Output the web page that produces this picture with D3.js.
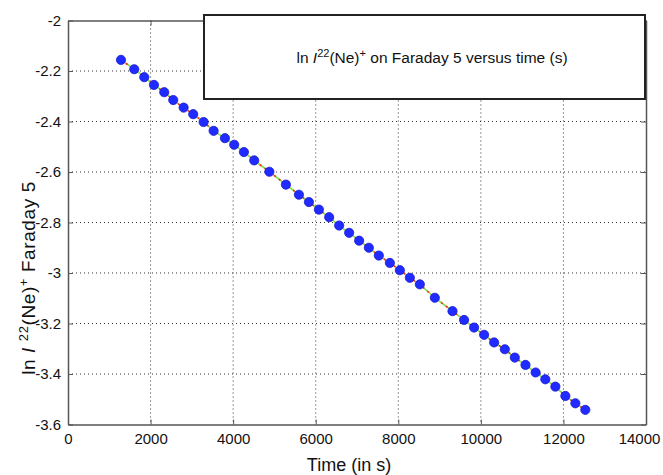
<!DOCTYPE html>
<html>
<head>
<meta charset="utf-8">
<script src="https://cdn.jsdelivr.net/npm/d3@7"></script>
<style>
  html, body { margin: 0; padding: 0; background: #fff; }
  svg { display: block; font-family: "Liberation Sans", Arial, sans-serif; }
</style>
</head>
<body>
<div id="chart"></div>
<script>
// Measured points: time (s) and ln I of 22(Ne)+ on Faraday 5
const times = [1283, 1605, 1847, 2082, 2331, 2549, 2801, 3033, 3285, 3527,
  3801, 4026, 4261, 4510, 4878, 5278, 5593, 5835, 6077, 6326,
  6568, 6810, 7052, 7287, 7529, 7796, 8038, 8280, 8522, 8885,
  9313, 9594, 9836, 10079, 10321, 10580, 10822, 11081, 11326, 11561,
  11805, 12047, 12289, 12530];
const lnValues = [-2.156, -2.193, -2.2245, -2.255, -2.284, -2.315, -2.345, -2.371, -2.402, -2.437,
  -2.466, -2.492, -2.521, -2.554, -2.599, -2.650, -2.690, -2.719, -2.749, -2.779,
  -2.812, -2.841, -2.872, -2.900, -2.931, -2.960, -2.989, -3.019, -3.045, -3.098,
  -3.151, -3.186, -3.216, -3.245, -3.275, -3.302, -3.335, -3.364, -3.394, -3.421,
  -3.450, -3.487, -3.516, -3.542];

const xTicks = [0, 2000, 4000, 6000, 8000, 10000, 12000, 14000];
const yTicks = [-2, -2.2, -2.4, -2.6, -2.8, -3, -3.2, -3.4, -3.6];

const width = 663, height = 475;
const margin = { left: 68, top: 20.5, right: 17, bottom: 50.5 };
const innerW = width - margin.left - margin.right;
const innerH = height - margin.top - margin.bottom;

const data = times.map((t, i) => ({ t: t, v: lnValues[i] }));

const svg = d3.select('#chart')
  .append('svg')
  .attr('width', width)
  .attr('height', height);

const x = d3.scaleLinear().domain([0, 14000]).range([0, innerW]);
const y = d3.scaleLinear().domain([-3.6, -2]).range([innerH, 0]);

const g = svg.append('g')
  .attr('transform', `translate(${margin.left},${margin.top})`);

// dotted grid
g.append('g')
  .selectAll('line')
  .data(xTicks.slice(1, -1))
  .enter()
  .append('line')
  .attr('x1', d => x(d)).attr('x2', d => x(d))
  .attr('y1', 0).attr('y2', innerH)
  .attr('stroke', '#333')
  .attr('stroke-dasharray', '1,3');

g.append('g')
  .selectAll('line')
  .data(yTicks.slice(1, -1))
  .enter()
  .append('line')
  .attr('x1', 0).attr('x2', innerW)
  .attr('y1', d => y(d)).attr('y2', d => y(d))
  .attr('stroke', '#333')
  .attr('stroke-dasharray', '1,3');

// axes (ticks point inward like MATLAB)
const fmt = d => String(d);
const xAxis = g.append('g')
  .attr('transform', `translate(0,${innerH})`)
  .call(d3.axisBottom(x).tickValues(xTicks).tickFormat(fmt).tickSizeInner(-5).tickSizeOuter(0).tickPadding(9));
const yAxis = g.append('g')
  .call(d3.axisLeft(y).tickValues(yTicks).tickFormat(fmt).tickSizeInner(-5).tickSizeOuter(0).tickPadding(7));
g.append('g')
  .call(d3.axisTop(x).tickValues(xTicks).tickFormat('').tickSizeInner(-5).tickSizeOuter(0));
g.append('g')
  .attr('transform', `translate(${innerW},0)`)
  .call(d3.axisRight(y).tickValues(yTicks).tickFormat('').tickSizeInner(-5).tickSizeOuter(0));

g.selectAll('.domain').attr('stroke', '#555').attr('stroke-width', 1.5);
g.selectAll('.tick line').attr('stroke', '#555');
g.selectAll('.tick text')
  .attr('fill', '#111')
  .attr('font-size', '15px')
  .attr('font-family', '"Liberation Sans", Arial, sans-serif');
// last x label sits a little left so it stays inside the figure
xAxis.selectAll('.tick text').filter(d => d === 14000).attr('dx', -7);

// connecting lines: green with red dashes on top
const line = d3.line().x(d => x(d.t)).y(d => y(d.v));
g.append('path')
  .datum(data)
  .attr('d', line)
  .attr('fill', 'none')
  .attr('stroke', '#7fe04a')
  .attr('stroke-width', 1.6);
g.append('path')
  .datum(data)
  .attr('d', line)
  .attr('fill', 'none')
  .attr('stroke', '#ff2a1a')
  .attr('stroke-width', 1.6)
  .attr('stroke-dasharray', '2,4');

// markers
g.append('g')
  .selectAll('circle')
  .data(data)
  .enter()
  .append('circle')
  .attr('cx', d => x(d.t))
  .attr('cy', d => y(d.v))
  .attr('r', 4.6)
  .attr('fill', '#1f2bff')
  .attr('stroke', '#1a1ad0')
  .attr('stroke-width', 0.8);

// legend box
const legend = svg.append('g');
legend.append('rect')
  .attr('x', 204).attr('y', 15)
  .attr('width', 441).attr('height', 84)
  .attr('fill', '#fff')
  .attr('stroke', '#222')
  .attr('stroke-width', 2);

const legText = legend.append('text')
  .attr('x', 432).attr('y', 63)
  .attr('text-anchor', 'middle')
  .attr('font-size', '15.5px')
  .attr('fill', '#111');
legText.append('tspan').text('ln ');
legText.append('tspan').attr('font-style', 'italic').text('I');
legText.append('tspan').attr('dy', -6).attr('font-size', '11px').text('22');
legText.append('tspan').attr('dy', 6).text('(Ne)');
legText.append('tspan').attr('dy', -6).attr('font-size', '11px').text('+');
legText.append('tspan').attr('dy', 6).text(' on Faraday 5 versus time (s)');

// axis titles
svg.append('text')
  .attr('x', 349).attr('y', 471)
  .attr('text-anchor', 'middle')
  .attr('font-size', '18px')
  .attr('fill', '#111')
  .text('Time (in s)');

const yTitle = svg.append('text')
  .attr('transform', 'translate(35,278) rotate(-90)')
  .attr('text-anchor', 'middle')
  .attr('font-size', '19px')
  .attr('letter-spacing', '0.6px')
  .attr('fill', '#111');
yTitle.append('tspan').text('ln ');
yTitle.append('tspan').attr('font-style', 'italic').text('I');
yTitle.append('tspan').text(' ');
yTitle.append('tspan').attr('dy', -7).attr('font-size', '13px').text('22');
yTitle.append('tspan').attr('dy', 7).text('(Ne)');
yTitle.append('tspan').attr('dy', -7).attr('font-size', '13px').text('+');
yTitle.append('tspan').attr('dy', 7).text(' Faraday 5');
</script>
</body>
</html>
